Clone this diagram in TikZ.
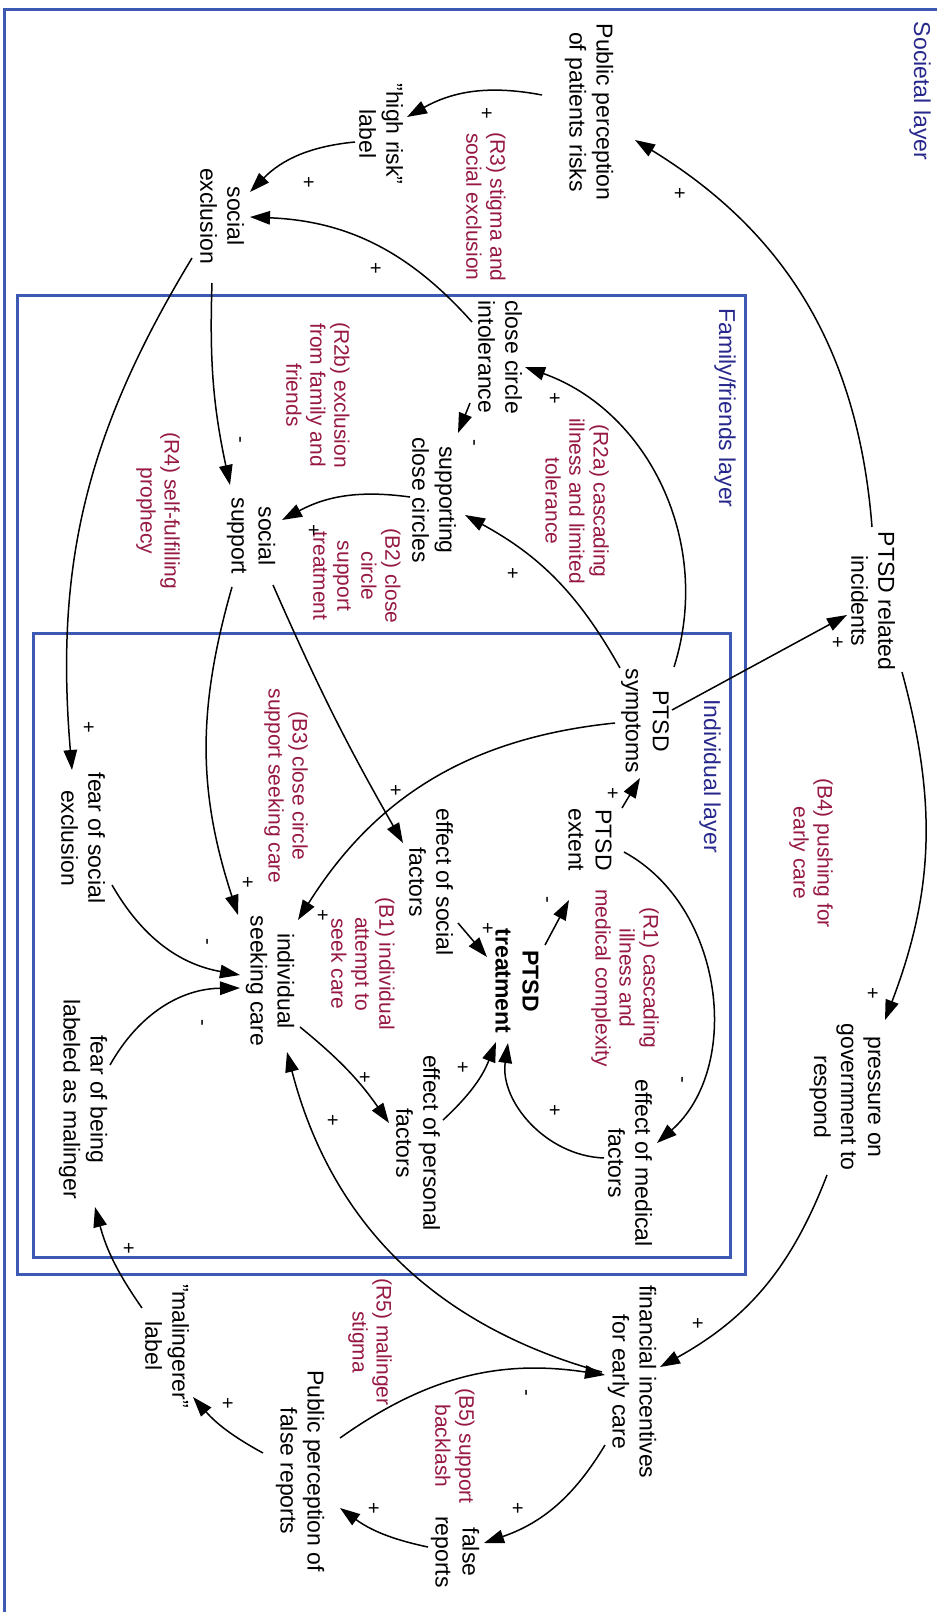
\documentclass[tikz,border=0pt]{standalone}
\usepackage{fontspec}
\setmainfont{Liberation Sans}
\usetikzlibrary{arrows.meta}
\definecolor{frameblue}{RGB}{60,90,180}
\definecolor{navytxt}{RGB}{40,40,140}
\definecolor{loopred}{RGB}{150,25,65}
\newcommand{\dq}{\symbol{34}}
\begin{document}
\begin{tikzpicture}[x=1pt,y=1pt,
  varbox/.style={rotate=-90,align=center,inner sep=2pt,font=\fontsize{23}{27}\selectfont},
  boldbox/.style={rotate=-90,align=center,inner sep=2pt,font=\fontsize{23}{27}\selectfont\bfseries},
  looplbl/.style={rotate=-90,align=center,inner sep=2pt,text=loopred,font=\fontsize{21}{24}\selectfont},
  layerlbl/.style={rotate=-90,inner sep=2pt,text=navytxt,font=\fontsize{23}{27}\selectfont},
  sgn/.style={rotate=-90,inner sep=1pt,font=\fontsize{20}{22}\selectfont},
  framebox/.style={draw=frameblue,line width=3pt},
  arr/.style={-{Triangle[length=20pt,width=13.5pt]},line width=1.5pt}]
\useasboundingbox (0,0) rectangle (937,-1612);
\clip (0,0) rectangle (937,-1612);
\fill[white] (0,0) rectangle (937,-1612);
% layer frames
\draw[framebox] (4,-9) rectangle (960,-1640);
\draw[framebox] (17,-295) rectangle (745,-1274);
\draw[framebox] (33,-633) rectangle (730,-1257);
\node[layerlbl] (Lsoc) at (920,-91) {Societal layer};
\node[layerlbl] (Lfam) at (725,-408) {Family/friends layer};
\node[layerlbl] (Lind) at (710,-776) {Individual layer};
% variables
\node[varbox] (A) at (589,-112) {Public perception\\of patients risks};
\node[varbox] (B) at (381,-134) {\dq high risk\dq\\label};
\node[varbox] (C) at (222,-216) {social\\exclusion};
\node[varbox] (D) at (500,-357) {close circle\\intolerance};
\node[varbox] (E) at (434,-500) {supporting\\close circles};
\node[varbox] (F) at (251,-536) {social\\support};
\node[varbox] (G) at (645,-721) {PTSD\\symptoms};
\node[varbox] (H) at (873,-601) {PTSD related\\incidents};
\node[varbox] (I) at (590,-840) {PTSD\\extent};
\node[boldbox] (J) at (517,-981) {PTSD\\treatment};
\node[varbox] (K) at (431,-882) {effect of social\\factors};
\node[varbox] (L) at (270,-981) {individual\\seeking care};
\node[varbox] (M) at (83,-838) {fear of social\\exclusion};
\node[varbox] (N) at (83,-1099) {fear of being\\labeled as malinger};
\node[varbox] (O) at (418,-1143) {effect of personal\\factors};
\node[varbox] (P) at (630,-1163) {effect of medical\\factors};
\node[varbox] (Q) at (845,-1097) {pressure on\\government to\\respond};
\node[varbox] (R) at (632,-1382) {financial incentives\\for early care};
\node[varbox] (S) at (455,-1552) {false\\reports};
\node[varbox] (T) at (300,-1471) {Public perception of\\false reports};
\node[varbox] (U) at (167,-1346) {\dq malingerer\dq\\label};
% loop labels
\node[looplbl] (lR3) at (486,-207) {(R3) stigma and\\social exclusion};
\node[looplbl] (lR2b) at (318,-395) {(R2b) exclusion\\from family and\\friends};
\node[looplbl] (lR2a) at (577,-501) {(R2a) cascading\\illness and limited\\tolerance};
\node[looplbl] (lB2) at (357,-576) {(B2) close\\circle\\support\\treatment};
\node[looplbl] (lR4) at (158,-511) {(R4) self-fulfilling\\prophecy};
\node[looplbl] (lB3) at (286,-786) {(B3) close circle\\support seeking care};
\node[looplbl] (lB1) at (363,-964) {(B1) individual\\attempt to\\seek care};
\node[looplbl] (lR1) at (625,-978) {(R1) cascading\\illness and\\medical complexity};
\node[looplbl] (lB4) at (811,-853) {(B4) pushing for\\early care};
\node[looplbl] (lR5) at (370,-1342) {(R5) malinger\\stigma};
\node[looplbl] (lB5) at (455,-1446) {(B5) support\\backlash};
% connectors
\draw[arr] ([shift={(-1,74)}]H.center) to[bend right=27] ([shift={(46,-28)}]A.center);
\draw[arr] ([shift={(-47,17)}]A.center) to[bend right=20] ([shift={(26,17)}]B.center);
\draw[arr] ([shift={(-26,-8)}]B.center) to[bend right=20] ([shift={(28,24)}]C.center);
\draw[arr] ([shift={(-28,35)}]D.center) to[bend right=23] ([shift={(28,-1)}]C.center);
\draw[arr] ([shift={(-10,-67)}]C.center) to[bend right=7] ([shift={(-21,51)}]F.center);
\draw[arr] ([shift={(-30,-42)}]C.center) to[bend right=18] ([shift={(-11,68)}]M.center);
\draw[arr] ([shift={(29,54)}]G.center) to[bend right=44] ([shift={(25,-10)}]D.center);
\draw[arr] ([shift={(-30,-46)}]D.center) -- ([shift={(24,67)}]E.center);
\draw[arr] ([shift={(-25,53)}]G.center) to[bend right=16] ([shift={(31,-15)}]E.center);
\draw[arr] ([shift={(-24,3)}]E.center) to[bend right=18] ([shift={(31,16)}]F.center);
\draw[arr] ([shift={(22,-49)}]F.center) to[bend right=3] ([shift={(-28,39)}]K.center);
\draw[arr] ([shift={(-19,-51)}]F.center) to[bend right=17] ([shift={(-32,66)}]L.center);
\draw[arr] ([shift={(-30,-2)}]G.center) to[bend right=26] ([shift={(28,61)}]L.center);
\draw[arr] ([shift={(27,11)}]G.center) -- ([shift={(-26,-14)}]H.center);
\draw[arr] ([shift={(32,32)}]I.center) -- ([shift={(-5,-57)}]G.center);
\draw[arr] ([shift={(34,-12)}]I.center) to[bend left=55] ([shift={(27,20)}]P.center);
\draw[arr] ([shift={(-26,5)}]P.center) to[bend left=48] ([shift={(-9,-62)}]J.center);
\draw[arr] ([shift={(28,36)}]J.center) -- ([shift={(-21,-60)}]I.center);
\draw[arr] ([shift={(27,-41)}]K.center) -- ([shift={(-30,24)}]J.center);
\draw[arr] ([shift={(25,23)}]O.center) to[bend right=13] ([shift={(-21,-61)}]J.center);
\draw[arr] ([shift={(30,-46)}]L.center) to[bend left=8] ([shift={(-29,20)}]O.center);
\draw[arr] ([shift={(29,-47)}]M.center) to[bend right=25] ([shift={(-30,6)}]L.center);
\draw[arr] ([shift={(27,34)}]N.center) to[bend left=30] ([shift={(-30,-7)}]L.center);
\draw[arr] ([shift={(-30,10)}]R.center) to[bend left=30] ([shift={(17,-71)}]L.center);
\draw[arr] ([shift={(40,33)}]T.center) to[bend left=22] ([shift={(-27,7)}]R.center);
\draw[arr] ([shift={(-18,-78)}]Q.center) to[bend left=20] ([shift={(28,15)}]R.center);
\draw[arr] ([shift={(-27,-63)}]R.center) to[bend left=20] ([shift={(29,9)}]S.center);
\draw[arr] ([shift={(-27,5)}]S.center) to[bend left=12] ([shift={(40,-37)}]T.center);
\draw[arr] ([shift={(-37,18)}]T.center) to[bend left=10] ([shift={(26,-51)}]U.center);
\draw[arr] ([shift={(-25,38)}]U.center) to[bend left=10] ([shift={(12,-108)}]N.center);
\draw[arr] ([shift={(29,-71)}]H.center) to[bend left=18] ([shift={(40,77)}]Q.center);
% polarity signs
\node[sgn] (s1) at (679,-193) {+};
\node[sgn] (s2) at (486,-113) {+};
\node[sgn] (s3) at (308,-182) {+};
\node[sgn] (s4) at (375,-268) {+};
\node[sgn] (s5) at (238,-440) {-};
\node[sgn] (s6) at (88,-727) {+};
\node[sgn] (s7) at (554,-398) {+};
\node[sgn] (s8) at (472,-443) {-};
\node[sgn] (s9) at (512,-573) {+};
\node[sgn] (s10) at (313,-530) {+};
\node[sgn] (s11) at (395,-790) {+};
\node[sgn] (s12) at (247,-882) {+};
\node[sgn] (s13) at (322,-915) {+};
\node[sgn] (s14) at (837,-642) {+};
\node[sgn] (s15) at (612,-793) {+};
\node[sgn] (s16) at (680,-1080) {-};
\node[sgn] (s17) at (554,-1110) {+};
\node[sgn] (s18) at (545,-900) {-};
\node[sgn] (s19) at (487,-928) {+};
\node[sgn] (s20) at (462,-1067) {+};
\node[sgn] (s21) at (364,-1077) {+};
\node[sgn] (s22) at (205,-942) {-};
\node[sgn] (s23) at (200,-1023) {-};
\node[sgn] (s24) at (332,-1120) {+};
\node[sgn] (s25) at (524,-1393) {-};
\node[sgn] (s26) at (697,-1323) {+};
\node[sgn] (s27) at (517,-1508) {+};
\node[sgn] (s28) at (373,-1508) {+};
\node[sgn] (s29) at (227,-1403) {+};
\node[sgn] (s30) at (128,-1248) {+};
\node[sgn] (s31) at (872,-993) {+};
\end{tikzpicture}
\end{document}
